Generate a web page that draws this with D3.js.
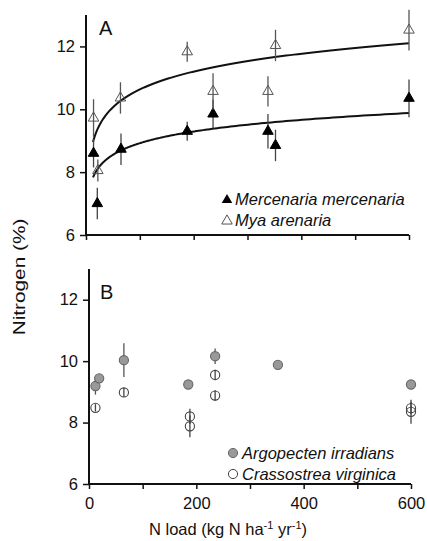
<!DOCTYPE html>
<html><head><meta charset="utf-8">
<script src="https://cdn.jsdelivr.net/npm/d3@7/dist/d3.min.js"></script>
<style>body{margin:0;background:#fff} text{font-family:"Liberation Sans",Arial,sans-serif;fill:#111}</style>
</head><body><svg id="c" width="427" height="541"></svg>
<script>
// ---- data ----
const mercN    = [14, 21, 65, 188, 236, 338, 352, 600];
const mercMean = [8.6, 7.0, 8.73, 9.3, 9.85, 9.3, 8.85, 10.35];
const mercErr  = [0.45, 0.5, 0.5, 0.3, 0.45, 0.55, 0.5, 0.6];
const myaN     = [14, 22, 64, 188, 236, 338, 352, 600];
const myaMean  = [9.72, 8.05, 10.36, 11.83, 10.57, 10.57, 12.03, 12.52];
const myaErr   = [0.6, 0.35, 0.5, 0.32, 0.58, 0.48, 0.5, 0.65];
const argoN    = [12, 19, 65, 185, 235, 352, 600];
const argoMean = [9.19, 9.44, 10.03, 9.24, 10.16, 9.88, 9.24];
const argoErr  = [0.28, 0, 0.55, 0, 0.25, 0, 0];
const crasN    = [12, 65, 188, 188, 235, 235, 600, 600];
const crasMean = [8.48, 8.98, 8.2, 7.88, 9.55, 8.88, 8.47, 8.35];
const crasErr  = [0.12, 0.15, 0.25, 0.36, 0.17, 0.17, 0.2, 0.39];
// logarithmic fits y = a + b*ln(N)
const fitMerc = {a: 6.458, b: 0.535};
const fitMya  = {a: 6.855, b: 0.82};
const fitRange = [13, 600];
const xTickValues = [0, 100, 200, 300, 400, 500, 600];
const xTickLabels = ["0", "", "200", "", "400", "", "600"];
const yTickValues = [6, 8, 10, 12];
const panelLabels = ["A", "B"];
const legendA = ["Mercenaria mercenaria", "Mya arenaria"];
const legendB = ["Argopecten irradians", "Crassostrea virginica"];
const yTitle = "Nitrogen (%)";

// ---- drawing ----
const svg = d3.select("#c");
const FONT = '"Liberation Sans",Arial,sans-serif';

function panel(box, showXLabels) {
  const x = d3.scaleLinear().domain([0, 600]).range([box.l, box.r]);
  const y = d3.scaleLinear().domain([6, 13]).range([box.b, box.t]);
  const g = svg.append("g");
  const ya = g.append("g").attr("transform", `translate(${box.l},0)`)
    .call(d3.axisLeft(y).tickValues(yTickValues).tickSize(6).tickPadding(5).tickFormat(d3.format("d")));
  ya.select(".domain").attr("d", `M0,${box.b}V${box.t}`).attr("stroke-width", 2).attr("stroke", "#111");
  ya.selectAll(".tick line").attr("stroke-width", 1.5).attr("stroke", "#111");
  ya.selectAll(".tick text").attr("font-size", 16.5).attr("font-family", FONT).attr("fill", "#111");
  const xa = g.append("g").attr("transform", `translate(0,${box.b})`)
    .call(d3.axisBottom(x).tickValues(xTickValues).tickSize(5).tickPadding(8)
      .tickFormat((d, i) => showXLabels ? xTickLabels[i] : ""));
  xa.select(".domain").attr("d", `M${box.l},0H${box.r}`).attr("stroke-width", 2).attr("stroke", "#111");
  xa.selectAll(".tick line").attr("stroke-width", 1.5).attr("stroke", "#111");
  xa.selectAll(".tick text").attr("font-size", 16.5).attr("font-family", FONT).attr("fill", "#111");
  return {x, y, g};
}

function errorBars(p, N, M, E, color) {
  p.g.append("g").selectAll("line").data(N.map((n, i) => i).filter(i => E[i] > 0)).join("line")
    .attr("x1", i => p.x(N[i])).attr("x2", i => p.x(N[i]))
    .attr("y1", i => p.y(M[i] - E[i])).attr("y2", i => p.y(M[i] + E[i]))
    .attr("stroke", color).attr("stroke-width", 1.3);
}

function triangles(p, N, M, fill, stroke) {
  p.g.append("g").selectAll("path").data(N.map((n, i) => i)).join("path")
    .attr("d", d3.symbol(d3.symbolTriangle, 48))
    .attr("transform", i => `translate(${p.x(N[i])},${p.y(M[i])})`)
    .attr("fill", fill).attr("stroke", stroke).attr("stroke-width", 1);
}

function circles(p, N, M, fill, stroke) {
  p.g.append("g").selectAll("circle").data(N.map((n, i) => i)).join("circle")
    .attr("cx", i => p.x(N[i])).attr("cy", i => p.y(M[i])).attr("r", 4.6)
    .attr("fill", fill).attr("stroke", stroke).attr("stroke-width", 1.1);
}

function fitLine(p, fit) {
  const pts = d3.range(0, 201).map(k => {
    const n = fitRange[0] * Math.pow(fitRange[1] / fitRange[0], k / 200);
    return [n, fit.a + fit.b * Math.log(n)];
  });
  p.g.append("path").datum(pts)
    .attr("d", d3.line().x(d => p.x(d[0])).y(d => p.y(d[1])))
    .attr("fill", "none").attr("stroke", "#111").attr("stroke-width", 2);
}

// Panel A
const pA = panel({l: 86, r: 409, t: 15, b: 235}, false);
fitLine(pA, fitMya);
fitLine(pA, fitMerc);
errorBars(pA, mercN, mercMean, mercErr, "#444");
triangles(pA, mercN, mercMean, "#000", "#000");
triangles(pA, myaN, myaMean, "none", "#555");
errorBars(pA, myaN, myaMean, myaErr, "#555");

// Panel B
const pB = panel({l: 89, r: 411, t: 269, b: 484}, true);
errorBars(pB, argoN, argoMean, argoErr, "#555");
circles(pB, argoN, argoMean, "#999", "#666");
circles(pB, crasN, crasMean, "none", "#444");
errorBars(pB, crasN, crasMean, crasErr, "#444");

// panel letters
svg.append("text").attr("x", 99).attr("y", 35).attr("font-size", 20).text(panelLabels[0]);
svg.append("text").attr("x", 100).attr("y", 299).attr("font-size", 20).text(panelLabels[1]);

// legends
const legA = svg.append("g");
legA.append("path").attr("d", d3.symbol(d3.symbolTriangle, 48)).attr("transform", "translate(227,200)").attr("fill", "#000");
legA.append("path").attr("d", d3.symbol(d3.symbolTriangle, 48)).attr("transform", "translate(227,221)").attr("fill", "none").attr("stroke", "#555");
legA.selectAll("text.l").data(legendA).join("text").attr("class", "l")
  .attr("x", 235).attr("y", (d, i) => 205 + i * 21).attr("font-size", 16.5).attr("font-style", "italic").text(d => d);

const legB = svg.append("g");
legB.append("circle").attr("cx", 233).attr("cy", 453).attr("r", 4.6).attr("fill", "#999").attr("stroke", "#666");
legB.append("circle").attr("cx", 233).attr("cy", 474).attr("r", 4.6).attr("fill", "none").attr("stroke", "#444");
legB.selectAll("text.l").data(legendB).join("text").attr("class", "l")
  .attr("x", 242).attr("y", (d, i) => 459 + i * 21).attr("font-size", 16.5).attr("font-style", "italic").text(d => d);

// axis titles
svg.append("text").attr("transform", "translate(25,277) rotate(-90) scale(1.3,1)").attr("text-anchor", "middle")
  .attr("font-size", 16).text(yTitle);
const xt = svg.append("text").attr("x", 228).attr("y", 535).attr("text-anchor", "middle").attr("font-size", 16.5);
xt.append("tspan").text("N load (kg N ha");
xt.append("tspan").attr("font-size", 11).attr("dy", -6).text("-1");
xt.append("tspan").attr("dy", 6).text(" yr");
xt.append("tspan").attr("font-size", 11).attr("dy", -6).text("-1");
xt.append("tspan").attr("dy", 6).text(")");
</script></body></html>
